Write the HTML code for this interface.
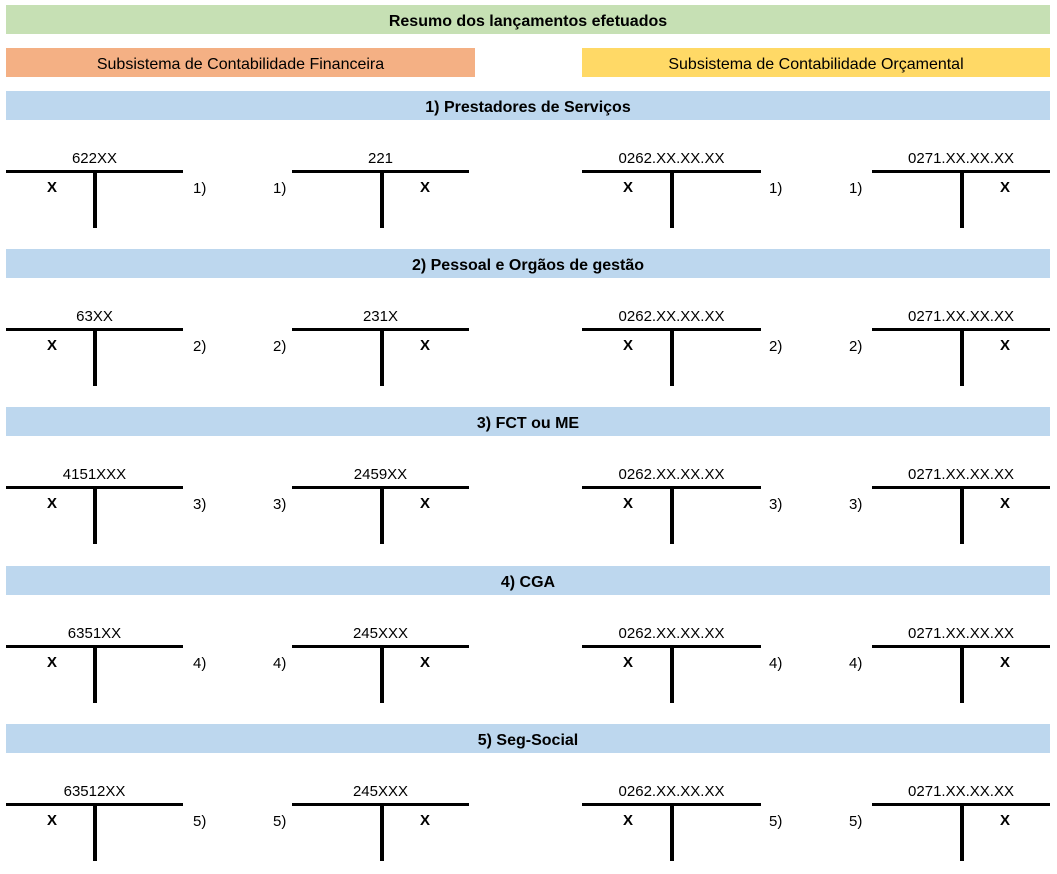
<!DOCTYPE html>
<html><head><meta charset="utf-8">
<style>
body{margin:0;width:1057px;height:874px;background:#fff;position:relative;overflow:hidden;font-family:"Liberation Sans",sans-serif;color:#000}
.bar{position:absolute;height:29px;line-height:33px;text-align:center;font-size:16px;overflow:hidden}
.b{font-weight:bold}
.t{position:absolute;font-size:15px;text-align:center;line-height:18px}
.h{position:absolute;height:3px;background:#000}
.v{position:absolute;width:4px;background:#000}
</style></head><body>
<div class="bar b" style="left:6px;top:5px;width:1044px;background:#c6e0b4">Resumo dos lançamentos efetuados</div>
<div class="bar" style="left:6px;top:48px;width:469px;background:#f4b084">Subsistema de Contabilidade Financeira</div>
<div class="bar" style="left:582px;top:48px;width:468px;background:#ffd966">Subsistema de Contabilidade Orçamental</div>
<script>
const sections=["1) Prestadores de Serviços","2) Pessoal e Orgãos de gestão","3) FCT ou ME","4) CGA","5) Seg-Social"];
const nums=["1)","2)","3)","4)","5)"];
const acc1=["622XX","63XX","4151XXX","6351XX","63512XX"];
const acc2=["221","231X","2459XX","245XXX","245XXX"];
const acc3="0262.XX.XX.XX", acc4="0271.XX.XX.XX";
const root=document.body;
function mk(cls,style,text){const d=document.createElement('div');d.className=cls;d.style.cssText=style;if(text!==undefined)d.textContent=text;root.appendChild(d);return d;}
const Ts=[{x:6,w:177,vx:93,side:'L'},{x:292,w:177,vx:380,side:'R'},{x:582,w:179,vx:670,side:'L'},{x:872,w:178,vx:960,side:'R'}];
sections.forEach((s,i)=>{
  const y0=91+i*158.2;
  let d=mk('bar b',`left:6px;top:${y0}px;width:1044px;background:#bdd7ee`,s);
  
  
  const ly=y0+79;
  const names=[acc1[i],acc2[i],acc3,acc4];
  Ts.forEach((t,j)=>{
    let a=mk('t',`left:${t.x}px;top:${ly-20}px;width:${t.w}px`,names[j]);
    
    
    let h=mk('h',`left:${t.x}px;top:${ly}px;width:${t.w}px`);
    
    
    let v=mk('v',`left:${t.vx}px;top:${ly}px;height:58px`);
    
    
    const xx=t.side==='L'?t.x+38:t.vx+37;
    let x=mk('t b',`left:${xx}px;top:${ly+9}px;width:16px`,'X');
    
    
    const lx=[193,273,769,849][j];
    let n=mk('t',`left:${lx}px;top:${ly+10}px;width:18px;text-align:left`,nums[i]);
    
    
  });
});
</script>
</body></html>
